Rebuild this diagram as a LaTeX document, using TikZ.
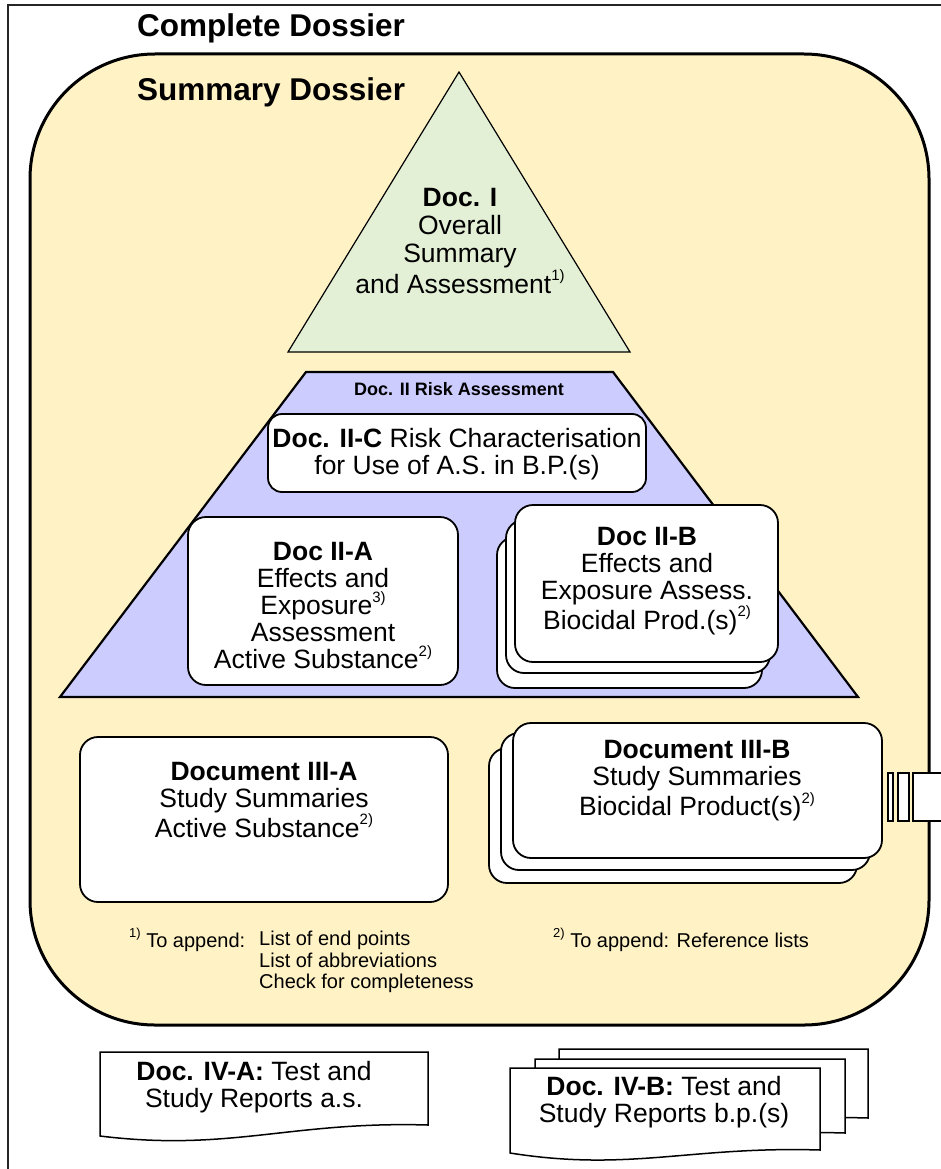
\documentclass[tikz,border=0pt]{standalone}
\usepackage{fontspec}
\setmainfont{Liberation Sans}
\newcommand\fnmark[2][15]{\raisebox{0.48em}{\fontsize{#1}{#1}\selectfont #2}}
\definecolor{dossieryellow}{RGB}{255,243,198}
\definecolor{docgreen}{RGB}{228,240,214}
\definecolor{riskblue}{RGB}{204,204,255}
\tikzset{
  frameline/.style={line width=1.3pt, draw=black!85},
  body/.style={font=\fontsize{26.5}{27}\selectfont, align=center, inner sep=0pt},
  title/.style={font=\fontsize{31.5}{34}\selectfont\bfseries, inner sep=0pt},
  note/.style={font=\fontsize{20}{21.5}\selectfont, inner sep=0pt},
  docbox/.style={draw=black, line width=1.8pt, fill=white, rounded corners=18pt, inner sep=0pt},
  sheet/.style={draw=black, line width=1.5pt, fill=white},
}
\begin{document}
\begin{tikzpicture}[x=1pt,y=-1pt]
\useasboundingbox (0,0) rectangle (941,1169);
\clip (0,0) rectangle (941,1169);

% complete dossier frame
\draw[frameline] (8,5) rectangle (980,1200);
\node[title, anchor=base west] (complete) at (137,37) {Complete Dossier};

% summary dossier area
\draw[line width=3pt, fill=dossieryellow, rounded corners=125pt] (30,54) rectangle (929,1025);
\node[title, anchor=base west] (summary) at (137,101) {Summary Dossier};

% Doc. I triangle
\draw[line width=1.2pt, fill=docgreen] (459,72) -- (630,352) -- (288,352) -- cycle;
\node[body, font=\fontsize{26.5}{28}\selectfont] (doc1) at (460,241)
  {\textbf{Doc. I}\\Overall\\Summary\\and Assessment\fnmark{1)}};

% Doc. II risk assessment trapezoid
\draw[line width=2.2pt, fill=riskblue] (306,372) -- (613,372) -- (858,697) -- (60,697) -- cycle;
\node[font=\fontsize{18}{20}\selectfont\bfseries, inner sep=0pt] (doc2) at (459,389) {Doc. II Risk Assessment};

\node[docbox, rounded corners=14pt, minimum width=378pt, minimum height=78pt] (doc2c) at (457,453) {};
\node[body] (doc2ct) at (457,454) {\textbf{Doc. II-C} Risk Characterisation\\for Use of A.S. in B.P.(s)};

\node[docbox, minimum width=270pt, minimum height=168pt] (doc2a) at (323,601) {};
\node[body] (doc2at) at (323,606)
  {\textbf{Doc II-A}\\Effects and\\Exposure\fnmark{3)}\\Assessment\\Active Substance\fnmark{2)}};

\node[docbox, minimum width=265pt, minimum height=151pt] (doc2b3) at (629.5,612.5) {};
\node[docbox, minimum width=264pt, minimum height=153pt] (doc2b2) at (638,596.5) {};
\node[docbox, minimum width=263pt, minimum height=157pt] (doc2b1) at (646.5,583.5) {};
\node[body] (doc2bt) at (647,581)
  {\textbf{Doc II-B}\\Effects and\\Exposure Assess.\\Biocidal Prod.(s)\fnmark{2)}};

% Document III boxes
\node[docbox, minimum width=368pt, minimum height=165pt] (doc3a) at (264,819.5) {};
\node[body] (doc3at) at (264,800)
  {\textbf{Document III-A}\\Study Summaries\\Active Substance\fnmark{2)}};

\node[docbox, minimum width=368pt, minimum height=135pt] (doc3b3) at (673,815.5) {};
\node[docbox, minimum width=369pt, minimum height=137pt] (doc3b2) at (685.5,801.5) {};
\node[docbox, minimum width=369pt, minimum height=135pt] (doc3b1) at (697.5,790.5) {};
\node[body] (doc3bt) at (697,781)
  {\textbf{Document III-B}\\Study Summaries\\Biocidal Product(s)\fnmark{2)}};

% binder symbol on the right edge
\draw[sheet, line width=1.4pt] (888,773) rectangle (893,821);
\draw[sheet, line width=1.4pt] (898,773) rectangle (909,821);
\draw[sheet, line width=1.4pt] (913,773) rectangle (990,821);

% footnotes
\node[note, anchor=base west] (fn1) at (129,947) {\fnmark[13]{1)} To append:};
\node[note, anchor=north west, align=left] (fn1list) at (259,931)
  {List of end points\\List of abbreviations\\Check for completeness};
\node[note, anchor=base west] (fn2) at (553,947) {\fnmark[13]{2)} To append: Reference lists};

% Doc. IV test and study reports
\draw[sheet] (100,1052) -- (428,1052) -- (428,1125)
  .. controls (290,1121) and (230,1152) .. (100,1136) -- cycle;
\node[body] (doc4a) at (254,1087) {\textbf{Doc. IV-A:} Test and\\Study Reports a.s.};

\draw[sheet] (559,1049) -- (868,1049) -- (868,1118)
  .. controls (740,1114) and (680,1140) .. (559,1130) -- cycle;
\draw[sheet] (535,1059) -- (845,1059) -- (845,1133)
  .. controls (715,1129) and (655,1155) .. (535,1145) -- cycle;
\draw[sheet] (510,1068) -- (820,1068) -- (820,1150)
  .. controls (690,1146) and (630,1172) .. (510,1153) -- cycle;
\node[body] (doc4b) at (664,1102) {\textbf{Doc. IV-B:} Test and\\Study Reports b.p.(s)};
\end{tikzpicture}
\end{document}
